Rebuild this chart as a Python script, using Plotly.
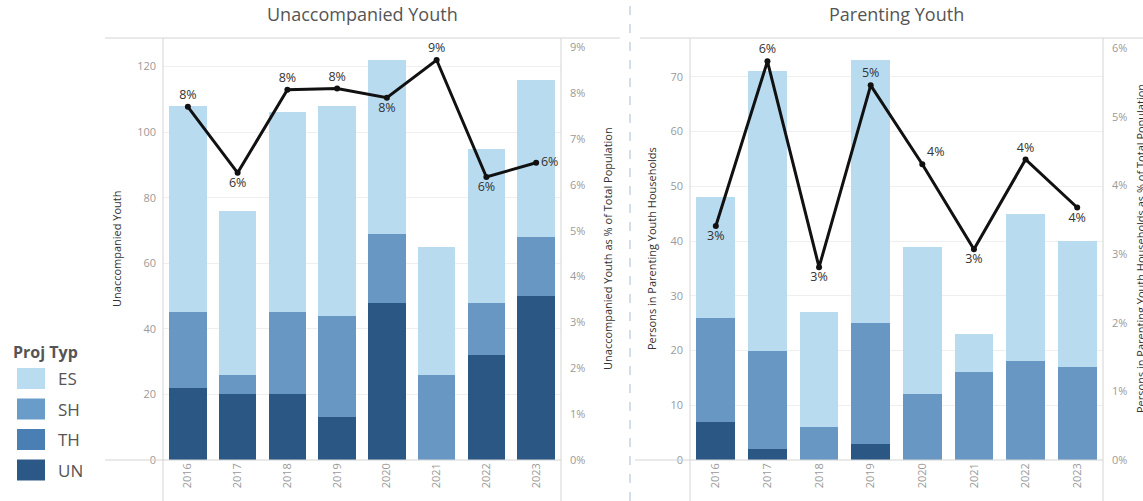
import plotly.graph_objects as go

W, H = 1143, 501

years = ["2016", "2017", "2018", "2019", "2020", "2021", "2022", "2023"]
proj_types = ["ES", "SH", "TH", "UN"]
type_colors = {"ES": "#b8dbf0", "SH": "#6897c3", "TH": "#4a7fb3", "UN": "#2b5784"}
legend_colors = {"ES": "#b9dcf0", "SH": "#6a9cc9", "TH": "#4a7fb3", "UN": "#2b5886"}

# Unaccompanied Youth (segment counts)
uy_es = [63, 50, 61, 64, 53, 39, 47, 48]
uy_sh = [23, 6, 25, 31, 21, 26, 16, 18]
uy_th = [0, 0, 0, 0, 0, 0, 0, 0]
uy_un = [22, 20, 20, 13, 48, 0, 32, 50]
uy_pct = [7.70, 6.26, 8.07, 8.10, 7.90, 8.72, 6.17, 6.48]
uy_lblpos = ["top center", "bottom center", "top center", "top center",
             "bottom center", "top center", "bottom center", "middle right"]

# Parenting Youth (segment counts)
py_es = [22, 51, 21, 48, 27, 7, 27, 23]
py_sh = [19, 18, 6, 22, 12, 16, 18, 17]
py_th = [0, 0, 0, 0, 0, 0, 0, 0]
py_un = [7, 2, 0, 3, 0, 0, 0, 0]
py_pct = [3.41, 5.81, 2.81, 5.46, 4.31, 3.07, 4.38, 3.68]
py_lblpos = ["bottom center", "top center", "bottom center", "top center",
             "top right", "bottom center", "top center", "bottom center"]

uy_ticks = [0, 20, 40, 60, 80, 100, 120]
uy_pct_ticks = [0, 1, 2, 3, 4, 5, 6, 7, 8, 9]
py_ticks = [0, 10, 20, 30, 40, 50, 60, 70]
py_pct_ticks = [0, 1, 2, 3, 4, 5, 6]

FONT = "Open Sans"
TICK = dict(family=FONT, size=11, color="#9a9a9a")
LINEC = "#d4d4d4"


def X(px):
    return px / W


def Y(py):
    return 1 - py / H


fig = go.Figure()

series_left = {"UN": uy_un, "TH": uy_th, "SH": uy_sh, "ES": uy_es}
series_right = {"UN": py_un, "TH": py_th, "SH": py_sh, "ES": py_es}
for t in ["UN", "TH", "SH", "ES"]:
    fig.add_trace(go.Bar(x=years, y=series_left[t], name=t, marker_color=type_colors[t],
                         marker_line_width=0, xaxis="x", yaxis="y", showlegend=False))
for t in ["UN", "TH", "SH", "ES"]:
    fig.add_trace(go.Bar(x=years, y=series_right[t], name=t, marker_color=type_colors[t],
                         marker_line_width=0, xaxis="x2", yaxis="y3", showlegend=False))

fig.add_trace(go.Scatter(x=years, y=uy_pct, mode="lines+markers+text",
                         text=[f"{round(v)}%" for v in uy_pct], textposition=uy_lblpos,
                         textfont=dict(family=FONT, size=12.5, color="#333"),
                         line=dict(color="#111", width=3), marker=dict(color="#111", size=6),
                         xaxis="x", yaxis="y2", showlegend=False, cliponaxis=False))
fig.add_trace(go.Scatter(x=years, y=py_pct, mode="lines+markers+text",
                         text=[f"{round(v)}%" for v in py_pct], textposition=py_lblpos,
                         textfont=dict(family=FONT, size=12.5, color="#333"),
                         line=dict(color="#111", width=3), marker=dict(color="#111", size=6),
                         xaxis="x2", yaxis="y4", showlegend=False, cliponaxis=False))

ydom = [Y(460), Y(38)]
xl = [X(163), X(561)]
xr = [X(690), X(1103)]

common_x = dict(type="category", tickangle=-90, tickfont=TICK, showgrid=False,
                showline=False, zeroline=False, ticks="", automargin=False)

fig.update_layout(
    width=W, height=H, margin=dict(l=0, r=0, t=0, b=0),
    paper_bgcolor="white", plot_bgcolor="white",
    barmode="stack", bargap=0.25,
    font=dict(family=FONT),
    xaxis=dict(domain=xl, anchor="y", **common_x),
    xaxis2=dict(domain=xr, anchor="y3", **common_x),
    yaxis=dict(domain=ydom, anchor="x", range=[0, 128.7], tickvals=uy_ticks, tickfont=TICK,
               showgrid=True, gridcolor="#efefef", zeroline=False, showline=False,
               automargin=False, ticklabelstandoff=6),
    yaxis2=dict(overlaying="y", side="right", anchor="x", range=[0, 9.2], tickvals=uy_pct_ticks,
                ticktext=[f"{v}%" for v in uy_pct_ticks], tickfont=TICK, showgrid=False,
                zeroline=False, showline=False, automargin=False, ticklabelstandoff=8),
    yaxis3=dict(domain=ydom, anchor="x2", range=[0, 77.1], tickvals=py_ticks, tickfont=TICK,
                showgrid=True, gridcolor="#efefef", zeroline=False, showline=False,
                automargin=False, ticklabelstandoff=6),
    yaxis4=dict(overlaying="y3", side="right", anchor="x2", range=[0, 6.15], tickvals=py_pct_ticks,
                ticktext=[f"{v}%" for v in py_pct_ticks], tickfont=TICK, showgrid=False,
                zeroline=False, showline=False, automargin=False, ticklabelstandoff=8),
)

shapes = []
# frame lines
for (x0, x1) in [(105, 620), (640, 1143)]:
    shapes.append(dict(type="line", xref="paper", yref="paper", x0=X(x0), x1=X(x1),
                       y0=Y(38), y1=Y(38), line=dict(color=LINEC, width=1)))
for (x0, x1) in [(105, 561), (635, 1103)]:
    shapes.append(dict(type="line", xref="paper", yref="paper", x0=X(x0), x1=X(x1),
                       y0=Y(460), y1=Y(460), line=dict(color=LINEC, width=1)))
for xv in [163, 561, 690, 1103]:
    shapes.append(dict(type="line", xref="paper", yref="paper", x0=X(xv), x1=X(xv),
                       y0=Y(38), y1=Y(501), line=dict(color=LINEC, width=1)))
# dashed divider
shapes.append(dict(type="line", xref="paper", yref="paper", x0=X(630), x1=X(630),
                   y0=0, y1=1, line=dict(color="#c3d3e3", width=1.5, dash="dash")))

ymid = (ydom[0] + ydom[1]) / 2
AX_T = dict(family=FONT, size=11, color="#333")
annotations = [
    dict(text="Unaccompanied Youth", x=(xl[0] + xl[1]) / 2, y=Y(14), xref="paper", yref="paper",
         xanchor="center", yanchor="middle", showarrow=False,
         font=dict(family=FONT, size=18, color="#555")),
    dict(text="Parenting Youth", x=(xr[0] + xr[1]) / 2, y=Y(14), xref="paper", yref="paper",
         xanchor="center", yanchor="middle", showarrow=False,
         font=dict(family=FONT, size=18, color="#555")),
    dict(text="Unaccompanied Youth", x=X(116), y=ymid, textangle=-90, xanchor="center",
         yanchor="middle", xref="paper", yref="paper", showarrow=False, font=AX_T),
    dict(text="Unaccompanied Youth as % of Total Population", x=X(607), y=ymid,
         textangle=-90, xanchor="center", yanchor="middle", xref="paper", yref="paper",
         showarrow=False, font=AX_T),
    dict(text="Persons in Parenting Youth Households", x=X(651), y=ymid,
         textangle=-90, xanchor="center", yanchor="middle", xref="paper", yref="paper",
         showarrow=False, font=AX_T),
    dict(text="Persons in Parenting Youth Households as % of Total Population", x=X(1140),
         y=ymid, textangle=-90, xanchor="center", yanchor="middle", xref="paper", yref="paper",
         showarrow=False, font=AX_T),
    dict(text="<b>Proj Typ</b>", x=X(11), y=Y(352), xref="paper", yref="paper", xanchor="left",
         yanchor="middle", showarrow=False, font=dict(family=FONT, size=16, color="#555")),
]

# manual legend
for i, t in enumerate(proj_types):
    top = 368 + i * 30.5
    shapes.append(dict(type="rect", xref="paper", yref="paper", x0=X(17), x1=X(45),
                       y0=Y(top + 21), y1=Y(top), fillcolor=legend_colors[t],
                       line=dict(width=0)))
    annotations.append(dict(text=t, x=X(56), y=Y(top + 10.5), xref="paper", yref="paper",
                            xanchor="left", yanchor="middle", showarrow=False,
                            font=dict(family=FONT, size=17, color="#555")))

fig.update_layout(shapes=shapes, annotations=annotations)
fig.write_html("out.html", config={"displayModeBar": False},
               post_script="document.body.style.margin='0';document.body.style.overflow='hidden';")
